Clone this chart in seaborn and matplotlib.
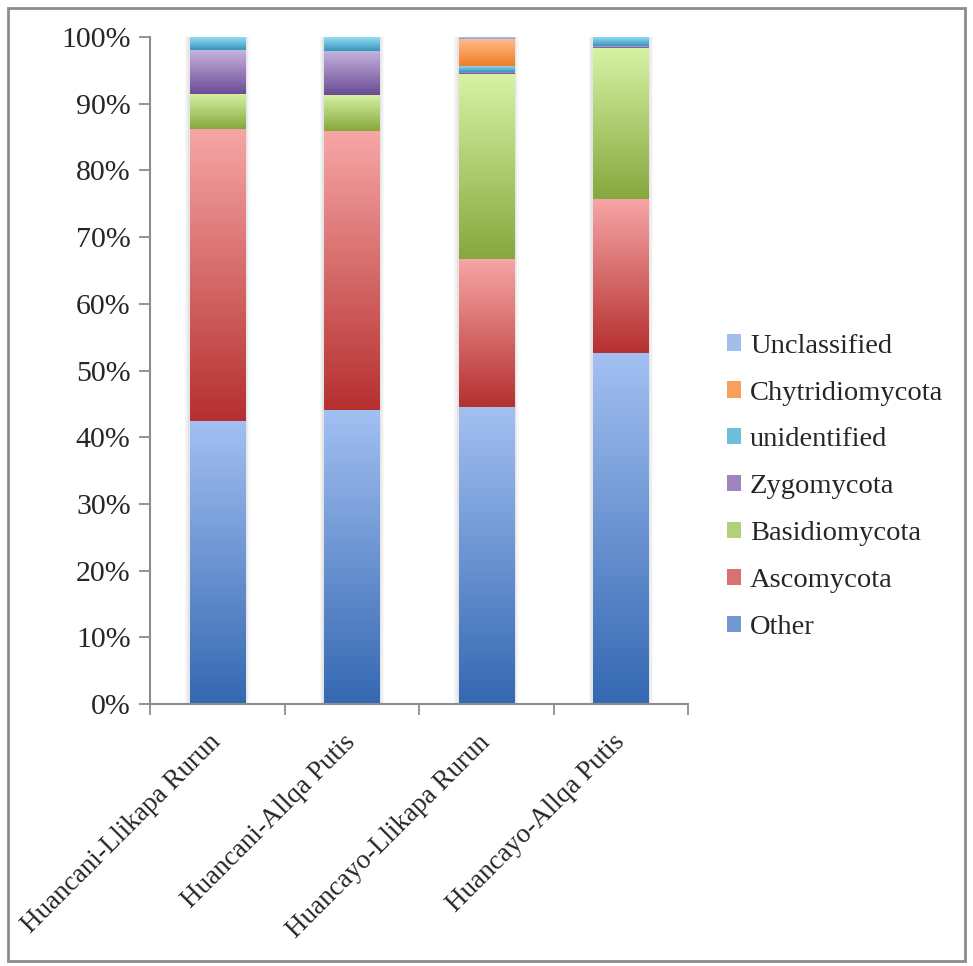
import numpy as np
import pandas as pd
import matplotlib
matplotlib.use("Agg")
import matplotlib.pyplot as plt
from matplotlib.colors import LinearSegmentedColormap, to_rgb
from matplotlib.patches import Rectangle, Patch
import seaborn as sns

sites = ["Huancani-Llikapa Rurun", "Huancani-Allqa Putis",
         "Huancayo-Llikapa Rurun", "Huancayo-Allqa Putis"]

# relative abundance (%) per phylum, stacked bottom to top
other           = [42.4, 44.1, 44.5, 52.6]
ascomycota      = [43.8, 41.8, 22.2, 23.1]
basidiomycota   = [5.3, 5.4, 27.7, 22.7]
zygomycota      = [6.5, 6.6, 0.3, 0.2]
unidentified    = [2.0, 2.1, 1.0, 1.4]
chytridiomycota = [0.0, 0.0, 4.0, 0.0]
unclassified    = [0.0, 0.0, 0.3, 0.0]

layers = ["Other", "Ascomycota", "Basidiomycota", "Zygomycota",
          "unidentified", "Chytridiomycota", "Unclassified"]
values = [other, ascomycota, basidiomycota, zygomycota,
          unidentified, chytridiomycota, unclassified]

# (bottom colour, top colour) of each segment's vertical gradient
shades = {
    "Other":           ("#3468b2", "#a3c0f2"),
    "Ascomycota":      ("#b5302f", "#f7a6a6"),
    "Basidiomycota":   ("#86a83e", "#d6f3a4"),
    "Zygomycota":      ("#6c4b94", "#c6b4df"),
    "unidentified":    ("#3596ba", "#9be2fa"),
    "Chytridiomycota": ("#f07e22", "#ffba8c"),
    "Unclassified":    ("#87a6df", "#b7cff6"),
}

sns.set_theme(style="white")
plt.rcParams["font.family"] = ["Liberation Serif", "DejaVu Serif"]

fig = plt.figure(figsize=(9.73, 9.66), dpi=100)
ax = fig.add_axes([0.1542, 0.2712, 0.5530, 0.6905])

fracs = [np.asarray(v, dtype=float) / 100.0 for v in values]
bottom = np.zeros(len(sites))
segments = []
for name, frac in zip(layers, fracs):
    df = pd.DataFrame({"site": sites, "share": frac})
    n0 = len(ax.patches)
    sns.barplot(data=df, x="site", y="share", order=sites, color=shades[name][1],
                width=0.41, bottom=bottom.copy(), linewidth=0, ax=ax,
                errorbar=None)
    for p in ax.patches[n0:]:
        segments.append((p, name))
    bottom = bottom + frac

# soft grey halo behind each column
for i in range(len(sites)):
    for k, a in zip([0.035, 0.025, 0.015], [0.05, 0.07, 0.09]):
        ax.add_patch(Rectangle((i - 0.205 - k, 0), 0.41 + 2 * k, 1.0 + 0.004,
                               facecolor="#808080", alpha=a, edgecolor="none",
                               zorder=0.5))

# replace flat fills with vertical gradients
grad = np.linspace(0, 1, 256).reshape(-1, 1)
for p, name in segments:
    h = p.get_height()
    if h <= 0:
        continue
    x0, y0, w = p.get_x(), p.get_y(), p.get_width()
    cmap = LinearSegmentedColormap.from_list(name, list(shades[name]))
    im = ax.imshow(grad, cmap=cmap, origin="lower", aspect="auto",
                   extent=[x0, x0 + w, y0, y0 + h], zorder=2,
                   interpolation="bilinear")
    im.set_clip_path(p)
    p.set_facecolor("none")
    p.set_zorder(2)

ax.set_xlim(-0.5, len(sites) - 0.5)
ax.set_ylim(0, 1.0)
ax.set_xlabel("")
ax.set_ylabel("")

yt = np.arange(0, 1.01, 0.1)
ax.set_yticks(yt)
ax.set_yticklabels([f"{int(round(t * 100))}%" for t in yt], fontsize=21.5)
ax.set_xticks(range(len(sites)))
ax.set_xticklabels(sites, rotation=45, ha="right", va="center",
                   rotation_mode="anchor", fontsize=19.5)
ax.set_xticks(np.arange(-0.5, len(sites), 1.0), minor=True)
ax.tick_params(axis="x", which="major", length=0, pad=25)
ax.tick_params(axis="x", which="minor", length=8, width=1.3, color="#8c8c8c",
               direction="out", bottom=True)
ax.tick_params(axis="y", length=8, width=1.3, color="#8c8c8c", direction="out",
               left=True, pad=6)
for s in ["top", "right"]:
    ax.spines[s].set_visible(False)
for s in ["left", "bottom"]:
    ax.spines[s].set_color("#8c8c8c")
    ax.spines[s].set_linewidth(1.5)

# legend, top entry is the highest layer in the stack
handles = []
for n in reversed(layers):
    lo, hi = to_rgb(shades[n][0]), to_rgb(shades[n][1])
    mid = tuple(0.45 * a + 0.55 * b for a, b in zip(lo, hi))
    handles.append(Patch(facecolor=mid, edgecolor="none"))
fig.legend(handles, list(reversed(layers)), loc="center left",
           bbox_to_anchor=(0.721, 0.496), frameon=False, fontsize=20.5,
           handlelength=0.5, handleheight=0.5, handletextpad=0.3,
           labelspacing=0.77)

# outer frame around the whole figure
fig.patches.append(Rectangle((0.0085, 0.005), 0.983, 0.987, transform=fig.transFigure,
                             fill=False, edgecolor="#8c8c8c", linewidth=2.0,
                             figure=fig))

fig.savefig("out.png", dpi=100, facecolor="white")
